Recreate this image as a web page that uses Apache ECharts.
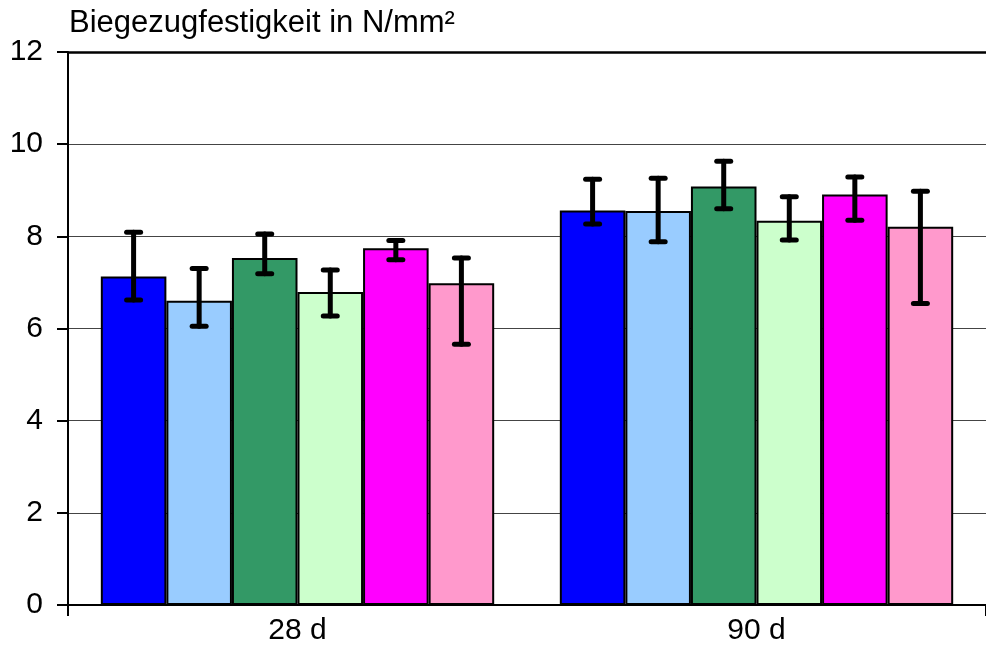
<!DOCTYPE html>
<html><head><meta charset="utf-8">
<script src="https://cdn.jsdelivr.net/npm/echarts@6/dist/echarts.min.js"></script>
<style>html,body{margin:0;padding:0;background:#fff}#c{width:986px;height:646px}</style>
</head><body><div id="c"></div>
<script>
const categories = ['28 d', '90 d'];
const yTicks = [0, 2, 4, 6, 8, 10, 12];
const colors = ['#0000FF', '#99CCFF', '#339966', '#CCFFCC', '#FF00FF', '#FF99CC'];
const s1 = [7.13, 8.56];
const s2 = [6.60, 8.55];
const s3 = [7.53, 9.08];
const s4 = [6.79, 8.34];
const s5 = [7.74, 8.91];
const s6 = [6.98, 8.21];
const lo1 = [6.62, 8.27], hi1 = [8.09, 9.24];
const lo2 = [6.05, 7.88], hi2 = [7.30, 9.26];
const lo3 = [7.19, 8.60], hi3 = [8.05, 9.63];
const lo4 = [6.27, 7.92], hi4 = [7.27, 8.86];
const lo5 = [7.49, 8.35], hi5 = [7.91, 9.29];
const lo6 = [5.66, 6.54], hi6 = [7.53, 8.98];

const values = [s1, s2, s3, s4, s5, s6];
const lows = [lo1, lo2, lo3, lo4, lo5, lo6];
const highs = [hi1, hi2, hi3, hi4, hi5, hi6];
const GAP = 0.143;
const N = values.length;
const FONT = 'Liberation Sans, Arial, sans-serif';

const chart = echarts.init(document.getElementById('c'), null, {renderer: 'canvas'});
const series = [];
values.forEach((v, i) => {
  series.push({
    type: 'bar', data: v, barGap: '0%', barCategoryGap: (GAP * 100) + '%',
    itemStyle: {color: colors[i], borderColor: '#000', borderWidth: 2},
    z: 2, silent: true
  });
});
const errData = [];
for (let i = 0; i < N; i++) for (let c = 0; c < categories.length; c++) errData.push([c, i, lows[i][c], highs[i][c]]);
series.push({
  type: 'custom', silent: true, z: 10,
  data: errData,
  encode: {x: 0, y: [2, 3]},
  renderItem: function (params, api) {
    const c = api.value(0), i = api.value(1);
    const catW = api.size([1, 0])[0];
    const bw = catW * (1 - GAP) / N;
    const pLo = api.coord([c, api.value(2)]);
    const pHi = api.coord([c, api.value(3)]);
    const x = pLo[0] + (i - (N - 1) / 2) * bw;
    const cap = 7;
    const st = {stroke: '#000', lineWidth: 5, lineCap: 'round'};
    return {type: 'group', children: [
      {type: 'line', shape: {x1: x, y1: pLo[1], x2: x, y2: pHi[1]}, style: st},
      {type: 'line', shape: {x1: x - cap, y1: pLo[1], x2: x + cap, y2: pLo[1]}, style: st},
      {type: 'line', shape: {x1: x - cap, y1: pHi[1], x2: x + cap, y2: pHi[1]}, style: st}
    ]};
  }
});

chart.setOption({
  animation: false,
  textStyle: {fontFamily: FONT},
  title: {text: 'Biegezugfestigkeit in N/mm²', left: 64, top: 3,
    textStyle: {fontFamily: FONT, fontSize: 31, fontWeight: 'normal', color: '#000'}},
  grid: {left: 68, top: 52, width: 928, bottom: 41, containLabel: false},
  xAxis: [{
    type: 'category', data: categories,
    axisLine: {lineStyle: {color: '#000', width: 2}},
    axisTick: {show: true, length: 11, interval: function (i) { return i === 0; }, lineStyle: {color: '#000', width: 2}},
    axisLabel: {color: '#000', fontSize: 30, margin: 11, fontFamily: FONT}
  }, {
    type: 'category', data: categories, position: 'top',
    axisLine: {show: true, lineStyle: {color: '#000', width: 2.5}},
    axisTick: {show: false}, axisLabel: {show: false}, splitLine: {show: false}
  }],
  yAxis: {
    type: 'value', min: yTicks[0], max: yTicks[yTicks.length - 1], interval: 2,
    axisLine: {show: true, lineStyle: {color: '#000', width: 2}},
    axisTick: {show: true, length: 11, lineStyle: {color: '#000', width: 2}},
    axisLabel: {color: '#000', fontSize: 30, margin: 25, fontFamily: FONT},
    splitLine: {show: true, lineStyle: {color: '#444', width: 1}}
  },
  series: series
});
</script>
</body></html>
